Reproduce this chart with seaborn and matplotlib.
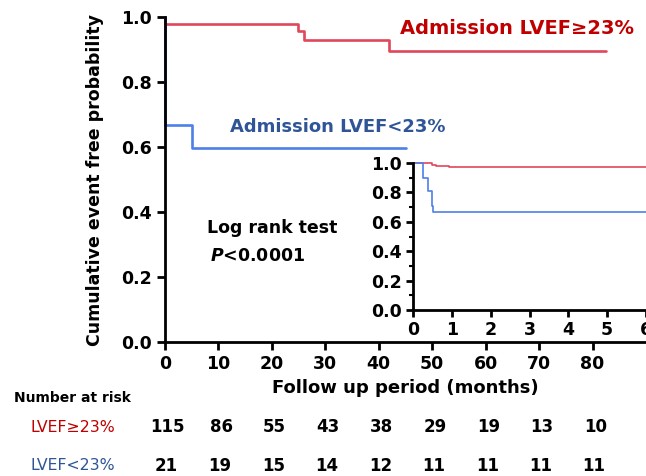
import seaborn as sns
import matplotlib.pyplot as plt
import pandas as pd
from matplotlib.ticker import MultipleLocator

# Kaplan-Meier steps (main panel, months)
hi_time = [0, 0, 24.9, 26.0, 42.0, 82.6]
hi_surv = [1.0, 0.978, 0.957, 0.929, 0.895, 0.895]
lo_time = [0, 0, 5.0, 45.0]
lo_surv = [1.0, 0.668, 0.597, 0.597]

# inset (first 6 units)
hi_time_in = [0, 0.48, 0.6, 0.93, 6.0]
hi_surv_in = [1.0, 0.987, 0.98, 0.97, 0.97]
lo_time_in = [0, 0.27, 0.38, 0.48, 0.52, 6.0]
lo_surv_in = [1.0, 0.90, 0.81, 0.71, 0.67, 0.67]

risk_times = [0, 10, 20, 30, 40, 50, 60, 70, 80]
risk_hi = [115, 86, 55, 43, 38, 29, 19, 13, 10]
risk_lo = [21, 19, 15, 14, 12, 11, 11, 11, 11]

RED_LINE = "#e0475a"
BLUE_LINE = "#4f7fe8"
RED_TXT = "#c00000"
BLUE_TXT = "#2f5597"


def km_frame(t1, s1, t2, s2):
    return pd.DataFrame({
        "time": t1 + t2,
        "surv": s1 + s2,
        "group": ["hi"] * len(t1) + ["lo"] * len(t2),
    })


sns.set_theme(style="ticks")
plt.rcParams["font.family"] = ["DejaVu Sans"]
plt.rcParams["font.weight"] = "bold"
plt.rcParams["text.color"] = "black"
plt.rcParams["axes.labelcolor"] = "black"
plt.rcParams["axes.edgecolor"] = "black"
plt.rcParams["xtick.color"] = "black"
plt.rcParams["ytick.color"] = "black"

fig = plt.figure(figsize=(6.46, 4.76), dpi=100)
ax = fig.add_axes([165 / 646, 1 - 342 / 476, 481 / 646, 325 / 476])

df = km_frame(hi_time, hi_surv, lo_time, lo_surv)
sns.lineplot(data=df, x="time", y="surv", hue="group", ax=ax,
             palette={"hi": RED_LINE, "lo": BLUE_LINE}, estimator=None,
             sort=False, drawstyle="steps-post", linewidth=1.9, legend=False)
for l in ax.lines:
    l.set_clip_on(False)

ax.set_xlim(0, 90)
ax.set_ylim(0, 1.0)
ax.set_xticks(risk_times)
ax.set_yticks([0, 0.2, 0.4, 0.6, 0.8, 1.0])
ax.set_yticklabels(["0.0", "0.2", "0.4", "0.6", "0.8", "1.0"])
ax.tick_params(labelsize=12.5, width=2, length=6, colors="black")
for lab in ax.get_xticklabels() + ax.get_yticklabels():
    lab.set_fontweight("bold")
ax.spines["left"].set_linewidth(2)
ax.spines["bottom"].set_linewidth(2)
sns.despine(ax=ax)
ax.set_xlabel("Follow up period (months)", fontsize=13, fontweight="bold", labelpad=4)
ax.set_ylabel("Cumulative event free probability", fontsize=12.5, fontweight="bold", labelpad=12)

ax.text(44, 0.966, "Admission LVEF≥23%", color=RED_TXT, fontsize=14,
        fontweight="bold", ha="left", va="center")
ax.text(12.2, 0.662, "Admission LVEF<23%", color=BLUE_TXT, fontsize=13,
        fontweight="bold", ha="left", va="center")
ax.text(7.9, 0.351, "Log rank test", fontsize=12.5, fontweight="bold", va="center")
ax.text(8.4, 0.265, "$\\mathbfit{P}$<0.0001", fontsize=12.5, fontweight="bold", va="center")

# inset
axin = fig.add_axes([413 / 646, 1 - 310 / 476, 233 / 646, 147 / 476])
dfin = km_frame(hi_time_in, hi_surv_in, lo_time_in, lo_surv_in)
sns.lineplot(data=dfin, x="time", y="surv", hue="group", ax=axin,
             palette={"hi": RED_LINE, "lo": BLUE_LINE}, estimator=None,
             sort=False, drawstyle="steps-post", linewidth=1.2, legend=False)
for l in axin.lines:
    l.set_clip_on(False)
axin.set_xlim(0, 6)
axin.set_ylim(0, 1.0)
axin.set_xticks(range(0, 7))
axin.set_yticks([0, 0.2, 0.4, 0.6, 0.8, 1.0])
axin.set_yticklabels(["0.0", "0.2", "0.4", "0.6", "0.8", "1.0"])
axin.yaxis.set_minor_locator(MultipleLocator(0.1))
axin.tick_params(labelsize=12.5, width=2, length=5, colors="black", pad=3)
axin.tick_params(which="minor", width=1.5, length=3)
for lab in axin.get_xticklabels() + axin.get_yticklabels():
    lab.set_fontweight("bold")
axin.spines["left"].set_linewidth(2)
axin.spines["bottom"].set_linewidth(2)
sns.despine(ax=axin)
axin.set_xlabel("")
axin.set_ylabel("")
axin.patch.set_facecolor("white")

# number at risk table
fig.text(14 / 646, 1 - 398 / 476, "Number at risk", fontsize=10, fontweight="bold", va="center")
fig.text(30 / 646, 1 - 427 / 476, "LVEF≥23%", fontsize=11.3, fontweight="normal",
         color=RED_TXT, va="center")
fig.text(30 / 646, 1 - 466 / 476, "LVEF<23%", fontsize=11.3, fontweight="normal",
         color=BLUE_TXT, va="center")
trans = ax.get_xaxis_transform()
for t, n1, n2 in zip(risk_times, risk_hi, risk_lo):
    ax.text(t + 0.5, -(427 - 342) / 325, str(n1), transform=trans, ha="center",
            va="center", fontsize=12, fontweight="bold", clip_on=False)
    ax.text(t + 0.3, -(466 - 342) / 325, str(n2), transform=trans, ha="center",
            va="center", fontsize=12, fontweight="bold", clip_on=False)

fig.savefig("out.png", dpi=100)
